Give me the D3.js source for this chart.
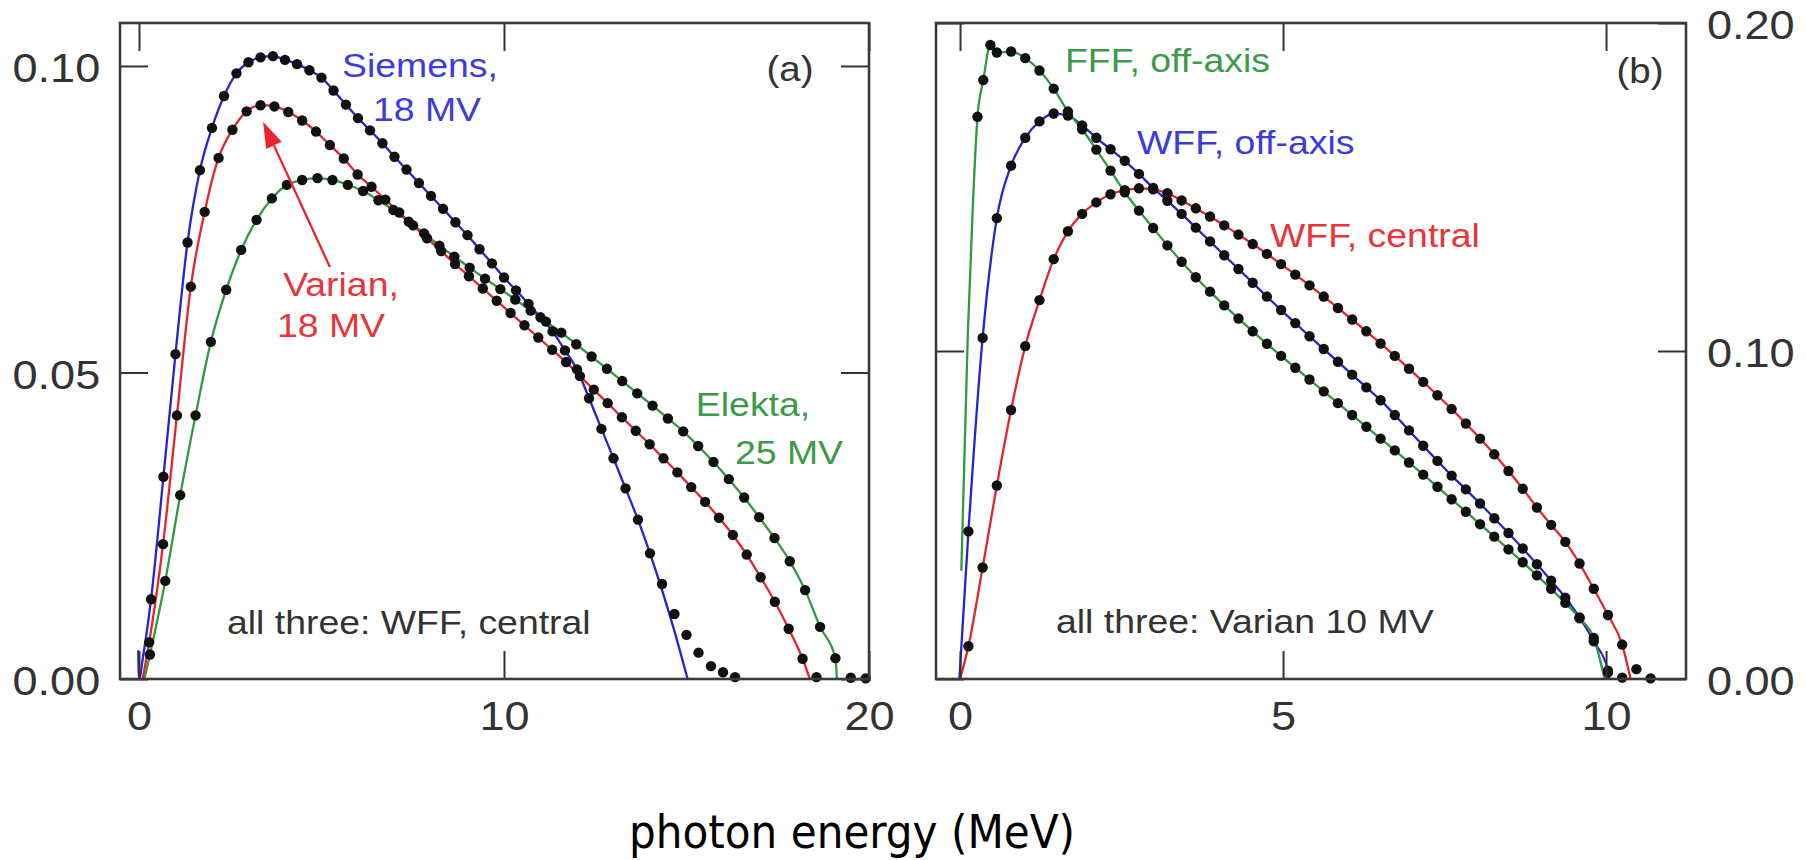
<!DOCTYPE html>
<html>
<head>
<meta charset="utf-8">
<script src="https://cdn.jsdelivr.net/npm/d3@7"></script>
<style>
  html, body { margin: 0; padding: 0; background: #ffffff; }
  svg { display: block; }
</style>
</head>
<body>
<svg id="chart" width="1806" height="860"></svg>
<script>
// ---------------- data ----------------
// Panel (a): central-axis spectra of three 18-25 MV linacs (energy MeV, fluence per MeV)
const ticksAx = [0, 10, 20];
const ticksAy = [0, 0.05, 0.10];

const siemensDots = [
  [0.33,0.013],[0.67,0.033],[1.00,0.053],[1.33,0.0712],[1.67,0.0830],[2.00,0.0899],[2.33,0.0951],
  [2.67,0.0988],[3.00,0.1006],[3.33,0.1014],[3.67,0.1016],[4.00,0.1010],[4.33,0.1003],[4.67,0.0993],
  [5.00,0.0981],[5.33,0.0960],[5.67,0.0937],[6.00,0.0915],[6.33,0.0895],[6.67,0.0874],[7.00,0.0852],
  [7.33,0.0831],[7.67,0.0809],[8.00,0.0788],[8.33,0.0767],[8.67,0.0745],[9.00,0.0724],[9.33,0.0701],
  [9.67,0.0678],[10.00,0.0655],[10.33,0.0634],[10.67,0.0612],[11.00,0.0590],[11.33,0.0567],[11.67,0.0536],
  [12.00,0.0505],[12.33,0.0458],[12.67,0.0408],[13.00,0.0360],[13.33,0.0311],[13.67,0.0260],[14.00,0.0205],
  [14.33,0.0155],[14.67,0.0106],[15.00,0.0072],[15.33,0.0043],[15.67,0.0021],[16.00,0.0011],[16.33,0.0003]
];
const siemensLineStart = [[-0.02,0.0047],[0.0,0.0],[0.12,0.004]];
const siemensLineEnd = [[14.33,0.0145],[14.67,0.0078],[15.03,0.0]];

const varianDots = [
  [0.28,0.006],[0.66,0.022],[1.04,0.043],[1.42,0.064],[1.80,0.0762],[2.18,0.0850],[2.56,0.0896],
  [2.95,0.0926],[3.33,0.0936],[3.71,0.0934],[4.09,0.0925],[4.47,0.0911],[4.85,0.0893],[5.23,0.0871],
  [5.61,0.0849],[5.99,0.0823],[6.37,0.0803],[6.75,0.0782],[7.13,0.0761],[7.51,0.0740],[7.89,0.0719],
  [8.28,0.0698],[8.66,0.0677],[9.04,0.0657],[9.42,0.0637],[9.80,0.0617],[10.18,0.0597],[10.56,0.0577],
  [10.94,0.0557],[11.32,0.0537],[11.70,0.0517],[12.08,0.0494],[12.46,0.0472],[12.84,0.0450],[13.23,0.0427],
  [13.61,0.0405],[13.99,0.0383],[14.37,0.0360],[14.75,0.0337],[15.13,0.0313],[15.51,0.0289],[15.89,0.0263],
  [16.27,0.0235],[16.65,0.0203],[17.03,0.0166],[17.42,0.0126],[17.80,0.0082],[18.18,0.0033],[18.56,0.0003]
];
const varianLineStart = [[0.10,0.0]];
const varianLineEnd = [[18.38,0.0]];

const elektaDots = [
  [0.30,0.004],[0.72,0.016],[1.13,0.030],[1.55,0.043],[1.97,0.055],[2.39,0.0635],[2.80,0.0700],
  [3.22,0.0749],[3.64,0.0784],[4.05,0.0806],[4.47,0.0814],[4.89,0.0817],[5.30,0.0814],[5.72,0.0806],
  [6.14,0.0796],[6.56,0.0781],[6.97,0.0765],[7.39,0.0746],[7.81,0.0727],[8.23,0.0707],[8.64,0.0689],
  [9.06,0.0671],[9.48,0.0653],[9.90,0.0636],[10.31,0.0619],[10.73,0.0601],[11.15,0.0583],[11.57,0.0565],
  [11.98,0.0546],[12.40,0.0526],[12.82,0.0506],[13.24,0.0486],[13.65,0.0466],[14.07,0.0446],[14.49,0.0425],
  [14.91,0.0404],[15.32,0.0380],[15.74,0.0354],[16.16,0.0326],[16.58,0.0296],[16.99,0.0264],[17.41,0.0230],
  [17.83,0.0192],[18.25,0.0145],[18.66,0.0085],[19.08,0.0034],[19.50,0.0002],[19.91,0.0001]
];
const elektaLineStart = [[0.15,0.0]];
const elektaLineEnd = [[19.12,0.0]];

const varianArrow = [[5.23,0.0672],[3.40,0.0909]];

// Panel (b): Varian 10 MV, flattened (WFF) and unflattened (FFF)
const ticksBx = [0, 5, 10];
const ticksBy = [0, 0.10, 0.20];

const wffCentralDots = [
  [0.13,0.010],[0.35,0.034],[0.57,0.059],[0.79,0.082],[1.01,0.1015],[1.23,0.1155],[1.45,0.1280],
  [1.67,0.1365],[1.89,0.1418],[2.11,0.1453],[2.33,0.1478],[2.55,0.1490],[2.77,0.1496],[2.99,0.1493],
  [3.21,0.1481],[3.43,0.1459],[3.65,0.1435],[3.87,0.1410],[4.09,0.1383],[4.31,0.1355],[4.53,0.1326],
  [4.75,0.1296],[4.97,0.1265],[5.19,0.1233],[5.41,0.1200],[5.63,0.1166],[5.85,0.1131],[6.07,0.1096],
  [6.29,0.1060],[6.51,0.1023],[6.73,0.0985],[6.95,0.0946],[7.17,0.0906],[7.39,0.0865],[7.61,0.0823],
  [7.83,0.0779],[8.05,0.0733],[8.27,0.0685],[8.49,0.0634],[8.71,0.0580],[8.93,0.0523],[9.15,0.0470],
  [9.37,0.0418],[9.59,0.0352],[9.81,0.0275],[10.03,0.0195],[10.25,0.0105],[10.47,0.0030],[10.69,0.0002]
];
const wffCentralLineStart = [[0.0,0.0]];
const wffCentralLineEnd = [[10.38,0.0]];

const wffOffAxisDots = [
  [0.13,0.045],[0.35,0.104],[0.57,0.1405],[0.79,0.1565],[1.01,0.1650],[1.23,0.1700],[1.45,0.1724],
  [1.67,0.1718],[1.89,0.1688],[2.11,0.1650],[2.33,0.1615],[2.55,0.1580],[2.77,0.1540],[2.99,0.1497],
  [3.21,0.1458],[3.43,0.1418],[3.65,0.1376],[3.87,0.1334],[4.09,0.1292],[4.31,0.1250],[4.53,0.1208],
  [4.75,0.1166],[4.97,0.1125],[5.19,0.1085],[5.41,0.1045],[5.63,0.1006],[5.85,0.0967],[6.07,0.0928],
  [6.29,0.0889],[6.51,0.0850],[6.73,0.0805],[6.95,0.0758],[7.17,0.0711],[7.39,0.0665],[7.61,0.0620],
  [7.83,0.0578],[8.05,0.0535],[8.27,0.0490],[8.49,0.0445],[8.71,0.0398],[8.93,0.0350],[9.15,0.0300],
  [9.37,0.0248],[9.59,0.0188],[9.81,0.0115],[10.03,0.0025],[10.25,0.0004]
];
const wffOffAxisLineStart = [[-0.01,0.0]];
const wffOffAxisLineEnd = [[10.05,0.0]];

const fffOffAxisDots = [
  [0.27,0.1714],[0.36,0.1826],[0.47,0.1933],[0.57,0.1910],[0.79,0.1913],[1.01,0.1893],[1.23,0.1855],
  [1.45,0.1800],[1.67,0.1730],[1.89,0.1676],[2.11,0.1614],[2.33,0.1550],[2.55,0.1484],[2.77,0.1428],
  [2.99,0.1375],[3.21,0.1322],[3.43,0.1272],[3.65,0.1225],[3.87,0.1181],[4.09,0.1139],[4.31,0.1099],
  [4.53,0.1060],[4.75,0.1022],[4.97,0.0985],[5.19,0.0949],[5.41,0.0913],[5.63,0.0877],[5.85,0.0841],
  [6.07,0.0805],[6.29,0.0769],[6.51,0.0733],[6.73,0.0697],[6.95,0.0660],[7.17,0.0623],[7.39,0.0586],
  [7.61,0.0548],[7.83,0.0510],[8.05,0.0472],[8.27,0.0434],[8.49,0.0395],[8.71,0.0356],[8.93,0.0316],
  [9.15,0.0275],[9.37,0.0232],[9.59,0.0185],[9.81,0.0125],[10.03,0.0020]
];
const fffOffAxisLineStart = [[0.02,0.033],[0.12,0.105],[0.20,0.145]];
const fffOffAxisLineEnd = [[9.98,0.0]];

// ---------------- drawing ----------------
const svg = d3.select('#chart');
const FONT = '"Liberation Sans", Arial, Helvetica, sans-serif';
const STRETCH = 'scale(1.1,1)';
const BLUE = '#2424d4', RED = '#e8232b', GREEN = '#2f9a3e';
const BLUE_TXT = '#3b3be0', RED_TXT = '#e8343a', GREEN_TXT = '#3c9a48';
const INK = '#333333';

function lineData(start, dots, end) {
  const first = end[0][0];
  const last = start[start.length - 1][0];
  return start.concat(dots.filter(d => d[0] > last && d[0] < first), end);
}

function annotate(g, x, y, str, fill, anchor = 'start', size = 34) {
  g.append('text')
    .attr('transform', `translate(${x},${y}) ${STRETCH}`)
    .attr('text-anchor', anchor)
    .attr('font-family', FONT)
    .attr('font-size', size)
    .attr('fill', fill)
    .text(str);
}

function drawPanel(cfg) {
  const x = d3.scaleLinear().domain(cfg.xDomain).range([cfg.left, cfg.right]);
  const y = d3.scaleLinear().domain(cfg.yDomain).range([cfg.bottom, cfg.top]);
  const g = svg.append('g');
  const tick = 28;
  const fmtY = d3.format('.2f');

  // curves
  const line = d3.line().x(d => x(d[0])).y(d => y(d[1])).curve(d3.curveMonotoneX);
  cfg.series.forEach(s => {
    g.append('path')
      .attr('d', line(s.line))
      .attr('fill', 'none')
      .attr('stroke', s.color)
      .attr('stroke-width', 2.3)
      .attr('stroke-linejoin', 'round');
  });
  cfg.series.forEach(s => {
    g.append('g').selectAll('circle')
      .data(s.dots)
      .join('circle')
      .attr('cx', d => x(d[0]))
      .attr('cy', d => y(d[1]))
      .attr('r', 5.2)
      .attr('fill', '#111');
  });

  // axes: ticks point inward on all four sides
  const styleAxis = (sel) => {
    sel.select('.domain').remove();
    sel.selectAll('line').attr('stroke', INK).attr('stroke-width', 2);
    sel.selectAll('text')
      .attr('font-family', FONT)
      .attr('font-size', 41)
      .attr('fill', INK)
      .attr('transform', STRETCH);
  };
  const yLabelled = cfg.yLabelSide === 'left';
  g.append('g').attr('transform', `translate(${cfg.left},0)`)
    .call(d3.axisLeft(y).tickValues(cfg.yTicks).tickSize(-tick).tickPadding(18)
      .tickFormat(yLabelled ? fmtY : () => ''))
    .call(styleAxis)
    .call(s => s.selectAll('text').attr('dy', '0.38em'));
  g.append('g').attr('transform', `translate(${cfg.right},0)`)
    .call(d3.axisRight(y).tickValues(cfg.yTicks).tickSize(-tick).tickPadding(19)
      .tickFormat(yLabelled ? () => '' : fmtY))
    .call(styleAxis)
    .call(s => s.selectAll('text').attr('dy', '0.38em'));
  g.append('g').attr('transform', `translate(0,${cfg.bottom})`)
    .call(d3.axisBottom(x).tickValues(cfg.xTicks).tickSize(-tick).tickPadding(22)
      .tickFormat(d3.format('d')))
    .call(styleAxis);
  g.append('g').attr('transform', `translate(0,${cfg.top})`)
    .call(d3.axisTop(x).tickValues(cfg.xTicks).tickSize(-tick).tickFormat(() => ''))
    .call(styleAxis);

  // frame
  g.append('rect')
    .attr('x', cfg.left).attr('y', cfg.top)
    .attr('width', cfg.right - cfg.left).attr('height', cfg.bottom - cfg.top)
    .attr('fill', 'none').attr('stroke', '#3a3a3a').attr('stroke-width', 2.6);

  return { g, x, y };
}

// ---- panel (a) ----
const A = drawPanel({
  left: 120, right: 869, top: 23, bottom: 679,
  xDomain: [-0.52, 20], yDomain: [0, 0.10701],
  xTicks: ticksAx, yTicks: ticksAy, yLabelSide: 'left',
  series: [
    { color: GREEN, dots: elektaDots, line: lineData(elektaLineStart, elektaDots, elektaLineEnd) },
    { color: RED, dots: varianDots, line: lineData(varianLineStart, varianDots, varianLineEnd) },
    { color: BLUE, dots: siemensDots, line: lineData(siemensLineStart, siemensDots.filter(d => d[0] <= 14.0), siemensLineEnd) }
  ]
});

// arrow pointing at the Varian peak
{
  const [p0, p1] = varianArrow.map(d => [A.x(d[0]), A.y(d[1])]);
  const ang = Math.atan2(p1[1] - p0[1], p1[0] - p0[0]);
  const headLen = 26, headHalf = 8.5;
  const bx = p1[0] - headLen * Math.cos(ang), by = p1[1] - headLen * Math.sin(ang);
  A.g.append('line')
    .attr('x1', p0[0]).attr('y1', p0[1]).attr('x2', bx).attr('y2', by)
    .attr('stroke', RED).attr('stroke-width', 2.3);
  A.g.append('path')
    .attr('d', `M${p1[0]},${p1[1]}L${bx + headHalf * Math.sin(ang)},${by - headHalf * Math.cos(ang)}` +
               `L${bx - headHalf * Math.sin(ang)},${by + headHalf * Math.cos(ang)}Z`)
    .attr('fill', RED);
}

annotate(A.g, 420, 77, 'Siemens,', BLUE_TXT, 'middle');
annotate(A.g, 427, 121, '18 MV', BLUE_TXT, 'middle');
annotate(A.g, 341, 296, 'Varian,', RED_TXT, 'middle');
annotate(A.g, 331, 337, '18 MV', RED_TXT, 'middle');
annotate(A.g, 753, 416, 'Elekta,', GREEN_TXT, 'middle');
annotate(A.g, 789, 464, '25 MV', GREEN_TXT, 'middle');
annotate(A.g, 790, 81, '(a)', INK, 'middle', 35);
annotate(A.g, 227, 634, 'all three: WFF, central', INK, 'start');

// ---- panel (b) ----
const B = drawPanel({
  left: 936, right: 1686, top: 23, bottom: 679,
  xDomain: [-0.372, 11.238], yDomain: [0, 0.20],
  xTicks: ticksBx, yTicks: ticksBy, yLabelSide: 'right',
  series: [
    { color: RED, dots: wffCentralDots, line: lineData(wffCentralLineStart, wffCentralDots, wffCentralLineEnd) },
    { color: BLUE, dots: wffOffAxisDots, line: lineData(wffOffAxisLineStart, wffOffAxisDots, wffOffAxisLineEnd) },
    { color: GREEN, dots: fffOffAxisDots, line: lineData(fffOffAxisLineStart, fffOffAxisDots, fffOffAxisLineEnd) }
  ]
});

annotate(B.g, 1065, 72, 'FFF, off-axis', GREEN_TXT);
annotate(B.g, 1137, 154, 'WFF, off-axis', BLUE_TXT);
annotate(B.g, 1270, 247, 'WFF, central', RED_TXT);
annotate(B.g, 1640, 83, '(b)', INK, 'middle', 35);
annotate(B.g, 1056, 633, 'all three: Varian 10 MV', INK, 'start');

// shared axis title
svg.append('text')
  .attr('x', 629).attr('y', 848)
  .attr('font-family', '"DejaVu Sans Condensed", "Open Sans", "DejaVu Sans", sans-serif')
  .attr('font-size', 47)
  .attr('fill', '#000')
  .attr('textLength', 446)
  .attr('lengthAdjust', 'spacingAndGlyphs')
  .text('photon energy (MeV)');
</script>
</body>
</html>
